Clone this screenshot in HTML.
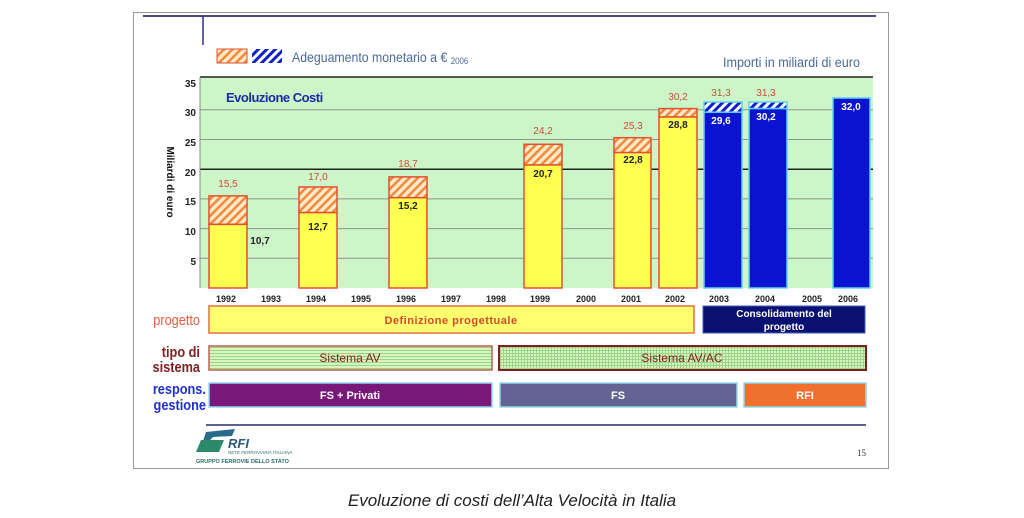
<!DOCTYPE html>
<html><head><meta charset="utf-8"><style>
html,body{margin:0;padding:0;background:#fff;}
svg{display:block;font-family:"Liberation Sans",sans-serif;}
</style></head><body>
<svg width="1024" height="518" viewBox="0 0 1024 518">
<defs>
<pattern id="ho" patternUnits="userSpaceOnUse" width="6" height="6" patternTransform="rotate(45)">
<rect width="6" height="6" fill="#fde9c8"/><rect width="2.5" height="6" fill="#f08a3c"/></pattern>
<pattern id="hb" patternUnits="userSpaceOnUse" width="6" height="6" patternTransform="rotate(45)">
<rect width="6" height="6" fill="#fff"/><rect width="3" height="6" fill="#1020c8"/></pattern>
<pattern id="gh" patternUnits="userSpaceOnUse" width="4" height="3">
<rect width="4" height="3" fill="#d8f5c0"/><rect y="2" width="4" height="1" fill="#9bd58a"/></pattern>
<pattern id="gg" patternUnits="userSpaceOnUse" width="3" height="3">
<rect width="3" height="3" fill="#d8f5c0"/><rect y="2" width="3" height="1" fill="#9bd58a"/><rect x="2" width="1" height="3" fill="#9bd58a"/></pattern>
</defs>
<rect x="133.5" y="12.5" width="755" height="456" fill="#fff" stroke="#999"/>
<line x1="143" y1="16" x2="876" y2="16" stroke="#4a4a8a" stroke-width="2"/>
<line x1="203" y1="16" x2="203" y2="45" stroke="#303080" stroke-width="1.5"/>
<rect x="217" y="49" width="30" height="14" fill="url(#ho)" stroke="#e05030"/>
<rect x="252" y="49" width="30" height="14" fill="url(#hb)"/>
<text x="292" y="62" font-size="14" fill="#4a6a9a" transform="translate(292,0) scale(0.88,1) translate(-292,0)">Adeguamento monetario a € <tspan font-size="9" dy="2">2006</tspan></text>
<text x="860" y="67" font-size="14" fill="#4a6a9a" text-anchor="end" transform="translate(860,0) scale(0.9,1) translate(-860,0)">Importi in miliardi di euro</text>
<rect x="200" y="77" width="673" height="211" fill="#ccf5c8"/>
<line x1="200" y1="77" x2="873" y2="77" stroke="#222" stroke-width="1.5"/>
<g stroke="#889988" stroke-width="1">
<line x1="200" y1="258.3" x2="873" y2="258.3"/><line x1="200" y1="228.6" x2="873" y2="228.6"/>
<line x1="200" y1="198.9" x2="873" y2="198.9"/><line x1="200" y1="139.5" x2="873" y2="139.5"/>
<line x1="200" y1="109.8" x2="873" y2="109.8"/></g>
<line x1="200" y1="169.2" x2="873" y2="169.2" stroke="#222" stroke-width="1.5"/>
<line x1="200" y1="77" x2="200" y2="288" stroke="#888"/>
<g font-size="10" font-weight="bold" fill="#222" text-anchor="end">
<text x="196" y="87">35</text><text x="196" y="116">30</text><text x="196" y="146">25</text>
<text x="196" y="176">20</text><text x="196" y="205">15</text><text x="196" y="235">10</text><text x="196" y="265">5</text></g>
<text transform="translate(167,182) rotate(90)" font-size="10" font-weight="bold" fill="#111" text-anchor="middle">Miliardi di euro</text>
<text x="226" y="102" font-size="13" font-weight="bold" fill="#1a2aa8" letter-spacing="-0.5">Evoluzione Costi</text>
<g stroke="#e05030" stroke-width="1.5">
<rect x="209" y="195.9" width="38" height="28.5" fill="url(#ho)"/><rect x="209" y="224.4" width="38" height="63.6" fill="#ffff50"/>
<rect x="299" y="187" width="38" height="25.6" fill="url(#ho)"/><rect x="299" y="212.6" width="38" height="75.4" fill="#ffff50"/>
<rect x="389" y="176.9" width="38" height="20.8" fill="url(#ho)"/><rect x="389" y="197.7" width="38" height="90.3" fill="#ffff50"/>
<rect x="524" y="144.3" width="38" height="20.7" fill="url(#ho)"/><rect x="524" y="165" width="38" height="123" fill="#ffff50"/>
<rect x="614" y="137.7" width="37" height="14.9" fill="url(#ho)"/><rect x="614" y="152.6" width="37" height="135.4" fill="#ffff50"/>
<rect x="659" y="108.6" width="38" height="8.4" fill="url(#ho)"/><rect x="659" y="117" width="38" height="171" fill="#ffff50"/>
</g>
<g stroke="#60d0f0" stroke-width="1.5">
<rect x="704" y="102" width="38" height="10.2" fill="url(#hb)"/><rect x="704" y="112.2" width="38" height="175.8" fill="#0a14d0"/>
<rect x="749" y="102" width="38" height="6.6" fill="url(#hb)"/><rect x="749" y="108.6" width="38" height="179.4" fill="#0a14d0"/>
<rect x="833" y="98" width="37" height="190" fill="#0a14d0"/>
</g>
<g font-size="10" fill="#d04a3a" text-anchor="middle">
<text x="228" y="187">15,5</text><text x="318" y="180">17,0</text><text x="408" y="167">18,7</text>
<text x="543" y="134">24,2</text><text x="633" y="129">25,3</text><text x="678" y="100">30,2</text>
<text x="721" y="96">31,3</text><text x="766" y="96">31,3</text></g>
<g font-size="10" font-weight="bold" fill="#222" text-anchor="middle">
<text x="260" y="244">10,7</text><text x="318" y="230">12,7</text><text x="408" y="209">15,2</text>
<text x="543" y="177">20,7</text><text x="633" y="163">22,8</text><text x="678" y="128">28,8</text></g>
<g font-size="10" font-weight="bold" fill="#fff" text-anchor="middle">
<text x="721" y="124">29,6</text><text x="766" y="120">30,2</text><text x="851" y="110">32,0</text></g>
<g font-size="9" font-weight="bold" fill="#222" text-anchor="middle">
<text x="226" y="302">1992</text><text x="271" y="302">1993</text><text x="316" y="302">1994</text><text x="361" y="302">1995</text>
<text x="406" y="302">1996</text><text x="451" y="302">1997</text><text x="496" y="302">1998</text><text x="540" y="302">1999</text>
<text x="586" y="302">2000</text><text x="631" y="302">2001</text><text x="675" y="302">2002</text><text x="719" y="302">2003</text>
<text x="765" y="302">2004</text><text x="812" y="302">2005</text><text x="848" y="302">2006</text></g>
<rect x="209" y="306" width="485" height="27" fill="#ffff70" stroke="#e07040" stroke-width="1.5"/>
<text x="451" y="324" font-size="11" font-weight="bold" fill="#d04a2a" text-anchor="middle" letter-spacing="0.5">Definizione progettuale</text>
<rect x="703" y="306" width="162" height="27" fill="#0a1070" stroke="#4060c0"/>
<text x="784" y="317" font-size="10" font-weight="bold" fill="#fff" text-anchor="middle">Consolidamento del</text>
<text x="784" y="330" font-size="10" font-weight="bold" fill="#fff" text-anchor="middle">progetto</text>
<g transform="translate(200,0) scale(0.85,1) translate(-200,0)">
<text x="200" y="325" font-size="15" fill="#e06040" text-anchor="end">progetto</text>
<text x="200" y="357" font-size="15" font-weight="bold" fill="#802020" text-anchor="end">tipo di</text>
<text x="200" y="372" font-size="15" font-weight="bold" fill="#802020" text-anchor="end">sistema</text>
<text x="207" y="394" font-size="15" font-weight="bold" fill="#2030d0" text-anchor="end">respons.</text>
<text x="207" y="410" font-size="15" font-weight="bold" fill="#2030d0" text-anchor="end">gestione</text>
</g>
<rect x="209" y="346" width="283" height="24" fill="url(#gh)" stroke="#c06050" stroke-width="1.5"/>
<rect x="499" y="346" width="367" height="24" fill="url(#gg)" stroke="#802020" stroke-width="2"/>
<text x="350" y="362" font-size="12" fill="#802020" text-anchor="middle">Sistema AV</text>
<text x="682" y="362" font-size="12" fill="#802020" text-anchor="middle">Sistema AV/AC</text>
<rect x="209" y="383" width="283" height="24" fill="#781878" stroke="#8fd8f0" stroke-width="1.5"/>
<rect x="500" y="383" width="237" height="24" fill="#646494" stroke="#8fd8f0" stroke-width="1.5"/>
<rect x="744" y="383" width="122" height="24" fill="#f07030" stroke="#8fd8f0" stroke-width="1.5"/>
<g font-size="11" font-weight="bold" fill="#fff" text-anchor="middle">
<text x="350" y="399">FS + Privati</text><text x="618" y="399">FS</text><text x="805" y="399">RFI</text></g>
<line x1="206" y1="425" x2="866" y2="425" stroke="#606090" stroke-width="2"/>
<path d="M200 450 L206 432 L235 429 L232 436 L213 437 Z" fill="#2a6a8a"/>
<path d="M196 452 L201 440 L224 440 L219 452 Z" fill="#2a8a6a"/>
<text x="228" y="448" font-size="13" font-weight="bold" font-style="italic" fill="#2a5a7a">RFI</text>
<text x="228" y="454" font-size="4.5" font-style="italic" fill="#2a6a6a">RETE FERROVIARIA ITALIANA</text>
<text x="196" y="463" font-size="5.5" font-weight="bold" fill="#2a6a6a">GRUPPO FERROVIE DELLO STATO</text>
<text x="866" y="456" font-size="9" fill="#333" font-family="Liberation Serif,serif" text-anchor="end">15</text>
<text x="512" y="506" font-size="17" font-style="italic" fill="#222" text-anchor="middle">Evoluzione di costi dell’Alta Velocità in Italia</text>
</svg>
</body></html>
